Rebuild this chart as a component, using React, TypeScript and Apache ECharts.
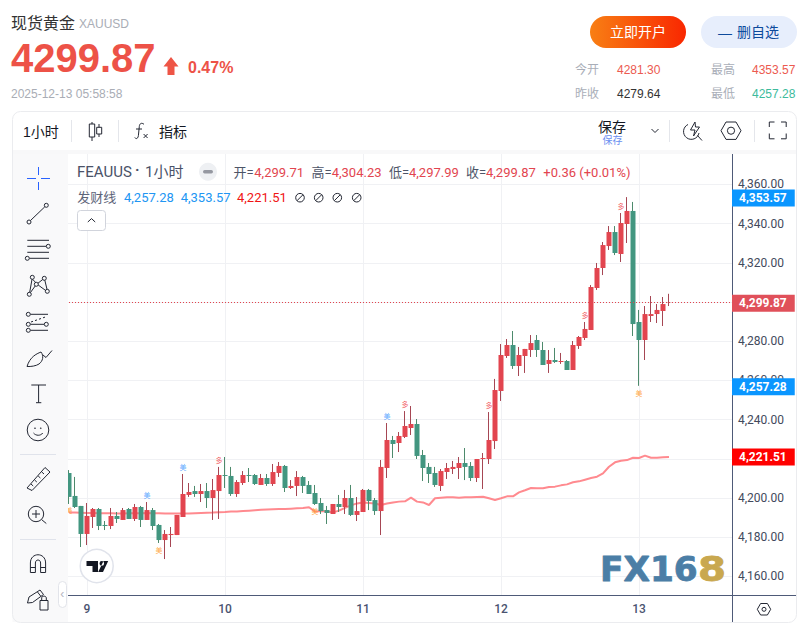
import React, { useEffect, useRef } from "react";
import * as echarts from "echarts";

const candleOpen = [
  4212.8,4201.1,4196.0,4181.7,4190.35,4194.45,4186.3,4185.75,4190.9,4188.85,
  4194.45,4189.35,4195.45,4188.85,4193.9,4186.3,4178.6,4181.15,4181.15,4190.35,
  4201.6,4203.6,4202.1,4203.6,4200.05,4203.6,4211.8,4211.3,4202.1,4207.7,
  4211.8,4211.8,4206.7,4210.25,4207.2,4212.8,4216.4,4205.15,4206.2,4210.75,
  4206.7,4202.6,4197.5,4193.9,4191.9,4197.0,4195.45,4200.05,4191.4,4192.9,
  4204.15,4199.0,4193.4,4215.35,4229.65,4228.1,4231.2,4235.75,4237.8,4222.0,
  4215.9,4212.8,4206.2,4213.3,4214.85,4215.35,4217.9,4216.4,4210.25,4219.95,
  4219.95,4229.1,4254.65,4272.5,4278.1,4267.4,4272.5,4275.55,4280.65,4275.55,
  4268.45,4270.45,4269.45,4269.95,4265.35,4277.6,4281.7,4285.75,4307.2,4317.4,
  4328.6,4335.75,4324.55,4339.85,4346.5,4289.85,4280.65,4292.9,4293.9,4295.45,4299.71,
];
const candleClose = [
  4200.6,4195.45,4181.7,4190.9,4194.45,4185.75,4185.75,4190.9,4189.35,4193.9,
  4189.35,4195.45,4188.85,4193.9,4185.75,4178.6,4181.7,4181.7,4191.4,4202.1,
  4203.1,4202.1,4203.6,4200.05,4204.1,4211.8,4211.3,4202.1,4208.2,4211.8,
  4211.3,4207.2,4210.25,4207.2,4213.3,4216.4,4205.15,4206.2,4210.75,4206.2,
  4202.1,4197.0,4193.4,4192.4,4197.0,4195.45,4200.05,4191.4,4193.4,4204.15,
  4198.5,4193.4,4215.9,4229.65,4227.6,4231.7,4236.8,4237.8,4221.5,4215.35,
  4212.3,4206.7,4213.8,4215.35,4215.9,4217.9,4215.9,4210.25,4219.95,4220.45,
  4229.65,4255.15,4273.0,4278.1,4267.4,4273.0,4276.1,4279.1,4275.55,4267.9,
  4270.45,4269.45,4269.95,4265.35,4278.1,4282.2,4286.3,4307.7,4317.4,4329.1,
  4335.75,4325.05,4340.35,4346.5,4288.8,4280.65,4293.9,4293.9,4296.0,4299.0,4299.87,
];
const candleLow = [
  4197.0,4194.95,4175.05,4176.05,4184.75,4183.7,4183.7,4184.2,4187.3,4188.85,
  4189.35,4188.3,4185.25,4188.85,4183.7,4177.1,4168.9,4175.05,4181.15,4190.35,
  4200.6,4200.6,4198.0,4194.95,4188.85,4189.35,4205.15,4201.1,4200.6,4206.7,
  4208.2,4206.7,4206.7,4206.2,4206.2,4210.8,4203.1,4204.65,4201.05,4202.6,
  4202.1,4196.5,4191.9,4186.8,4191.9,4192.9,4191.9,4190.85,4188.3,4192.9,
  4193.9,4191.4,4181.15,4210.25,4220.45,4223.5,4230.65,4232.2,4219.95,4208.7,
  4207.7,4205.7,4203.6,4209.75,4212.3,4209.75,4209.2,4208.7,4208.2,4204.65,
  4217.4,4225.05,4249.55,4271.5,4265.9,4262.3,4263.85,4272.0,4272.0,4267.9,
  4263.85,4268.95,4268.45,4265.35,4265.35,4276.1,4280.65,4285.75,4306.2,4313.8,
  4326.6,4324.0,4320.45,4330.15,4282.7,4257.28,4270.45,4289.85,4289.35,4287.8,4297.99,
];
const candleHigh = [
  4214.3,4210.8,4196.0,4197.5,4194.95,4194.95,4188.3,4194.95,4192.9,4194.95,
  4194.95,4197.0,4196.0,4198.0,4194.95,4186.8,4183.7,4185.25,4191.4,4212.3,
  4207.7,4206.2,4207.2,4207.7,4209.75,4215.9,4220.97,4215.9,4209.2,4213.8,
  4215.35,4212.3,4212.3,4212.3,4217.4,4218.4,4216.9,4209.2,4213.8,4211.3,
  4208.7,4206.7,4200.05,4196.0,4197.0,4201.6,4204.15,4206.7,4200.55,4204.65,
  4204.65,4200.05,4219.45,4238.3,4231.7,4233.7,4244.4,4246.99,4240.35,4224.55,
  4217.9,4215.9,4214.85,4217.9,4218.95,4220.95,4225.55,4218.4,4219.95,4223.0,
  4243.9,4260.8,4278.6,4281.15,4285.25,4277.1,4276.1,4283.2,4283.2,4279.65,
  4275.55,4276.6,4274.05,4270.45,4280.15,4282.7,4289.85,4308.7,4319.95,4330.65,
  4338.8,4338.8,4345.45,4353.57,4351.1,4296.0,4298.0,4303.1,4299.0,4302.6,4304.23,
];
const fortuneLine = [
  4192.7,4192.6,4192.5,4192.4,4192.4,4192.3,4192.3,4192.3,4192.2,4192.2,
  4192.3,4192.3,4192.3,4192.4,4192.3,4192.3,4192.2,4192.1,4192.1,4192.2,
  4192.2,4192.3,4192.4,4192.5,4192.6,4192.8,4192.9,4193.1,4193.2,4193.4,
  4193.6,4193.8,4194.0,4194.2,4194.3,4194.4,4194.4,4194.6,4194.8,4195.0,
  4195.3,4193.1,4193.4,4193.25,4192.7,4193.6,4195.0,4196.3,4197.3,4197.7,
  4197.5,4197.2,4196.5,4197.2,4197.8,4198.2,4198.35,4200.2,4198.2,4197.8,
  4196.5,4199.9,4200.2,4200.4,4200.4,4200.2,4200.4,4200.4,4200.55,4200.7,
  4199.9,4199.0,4199.9,4200.9,4200.9,4202.9,4204.0,4205.15,4205.0,4205.0,
  4205.7,4205.85,4206.5,4207.0,4208.05,4208.55,4209.4,4210.25,4210.9,4212.6,
  4216.0,4218.25,4219.1,4219.4,4220.6,4220.45,4221.65,4220.6,4220.6,4220.8,4221.0,
];
const blueMarks = [[13, 4201.2], [19, 4215.5], [53, 4241.5]];
const redMarks = [[25, 4219.1], [56, 4247.65], [70, 4247.1], [86, 4293.1], [92, 4348.7]];
const orangeMarks = [[0, 4193.6], [15, 4173.5], [41, 4193.06], [95, 4253.3]];
const priceTicks = [4160, 4180, 4200, 4220, 4240, 4260, 4280, 4300, 4320, 4340, 4360];
const priceLabels = [4160, 4180, 4200, 4240, 4260, 4280, 4320, 4340, 4360];
const dayIndexes = [3, 26, 49, 72, 95];
const dayNames = ["9", "10", "11", "12", "13"];
const LAST_PRICE = 4299.87;
const SIGNAL_LOW = 4257.28;
const SIGNAL_HIGH = 4353.57;
const SIGNAL_MID = 4221.51;
const categories: string[] = Array.from({ length: 111 }, (_, i) => {
  const k = dayIndexes.indexOf(i);
  return k >= 0 ? dayNames[k] : "";
});

const CJK = '"Liberation Sans","Noto Sans CJK SC",sans-serif';
const ROB = 'Roboto,"Noto Sans CJK SC",sans-serif';
const UP = "#e2454f";
const DOWN = "#429680";
const UPW = "#a64653";
const DOWNW = "#4d8a6c";

const circ = (x: number, y: number, r: number) =>
  `M${x - r} ${y}a${r} ${r} 0 1 0 ${2 * r} 0a${r} ${r} 0 1 0 ${-2 * r} 0`;
const seg = (a: number, b: number, c: number, d: number) => `M${a} ${b}L${c} ${d}`;

const iconsD = [
  // trend
  circ(29, 222, 2), circ(46.3, 205.3, 2), seg(30.5, 220.5, 44.8, 206.8),
  // parallel lines
  seg(27.3, 240.3, 49, 240.3), seg(27.3, 246.3, 46, 246.3), circ(48.3, 246.3, 2), seg(27.3, 252.3, 49, 252.3),
  seg(29.5, 258.3, 49, 258.3), circ(27.3, 258.3, 2),
  // network
  circ(32.3, 277.3, 2), circ(44.3, 278.3, 2), circ(36.3, 284.3, 2), circ(29.3, 294.3, 2), circ(47.3, 291.3, 2),
  seg(32.6, 279.3, 35.6, 282.4), seg(42.7, 279.5, 38, 283.2), seg(44.8, 280.2, 47, 289.3), seg(38.2, 285, 45.5, 290.4),
  seg(35.2, 286, 30.4, 292.6), seg(32, 279.3, 29.7, 292.3),
  // fib
  circ(28.3, 314.3, 2), seg(30.5, 314.3, 48, 314.3), circ(28.3, 324.3, 2), seg(30.5, 324.3, 44, 324.3), circ(46.3, 324.3, 2),
  circ(28.3, 330.3, 2), seg(30.5, 330.3, 48, 330.3),
  "M31 322L33 321.3M35 320.6L37 319.9M39 319.2L41 318.5M43 317.8L45 317.1",
  // brush
  "M27 366.5C30 357 36 354 41 352C44 356 43 361 39 364C36 366 31 366.7 27 366.5Z", "M43 355L46 357.5L52 350.5",
  // T
  "M31.3 385H46M38.6 385V402.7M36 402.7H41.3",
  // smile
  circ(38, 430, 10.8), "M33.5 433C36 436 40.5 436 42.8 433", circ(35, 428.2, 0.4), circ(40.8, 428.2, 0.4),
  // ruler
  "M27 488L45 467.5L50 472L32 490.5Z", "M31 484L33.2 486M34.6 480L36.8 482M38.2 476L40.4 478M41.8 472L44 474",
  // zoom
  circ(36, 514, 7.7), "M36 510V518M32 514H40M41.6 519.6L46.3 523.5",
  // magnet
  "M30.4 572.5V563C30.4 552 45.6 552 45.6 563V572.5H40.6V563C40.6 559 35.4 559 35.4 563V572.5Z", "M30.4 567.5H35.4M40.6 567.5H45.6",
  // pencil lock
  "M27.5 603L29 597L40 590L43.5 594.5L32.5 602.5Z", "M37.5 592L41 596.5", "M40 600.5H48V610H40Z", "M41.7 600.5V598C41.7 595.5 46.3 595.5 46.3 598V600.5",
  // candle icon
  "M89.3 124H94.7V137H89.3ZM92 122V124M92 137V141M96.7 127.3H101.7V134H96.7ZM99 124V127.3M99 134V137",
  // fx
  "M144 124.3C141.5 122.3 139.5 123.5 139.3 126.5L138.4 135.5C138 139 135.8 139.3 134.8 137.5M136 129H142M143.6 134L147.6 138M147.6 134L143.6 138",
  // chevrons
  "M651.5 129L655 132.5L658.5 129", "M87.8 222L91.5 218.6L95.2 222",
  // lightning search
  "M688 124.5A7.8 7.8 0 1 0 699 133M697.5 135.5L702 140.5", "M695 122L690.5 130H695L693.5 136L699.5 127H695.5Z",
  // settings hexagon
  "M721 130.7L726 122H736L741 130.7L736 139.4H726Z", circ(731, 130.7, 3.6),
  // fullscreen
  "M769.3 127V122H774.5M781 122H786.2V127M786.2 133.5V138.8H781M774.5 138.8H769.3V133.5",
  // axis hexagon
  "M757.3 609.3L760.6 603.5H767.4L770.7 609.3L767.4 615H760.6Z", circ(764, 609.3, 2),
  // no-entry circles
  circ(300, 197.7, 4.3), seg(297, 200.7, 303, 194.7), circ(318.7, 197.7, 4.3), seg(315.7, 200.7, 321.7, 194.7),
  circ(337.3, 197.7, 4.3), seg(334.3, 200.7, 340.3, 194.7), circ(356.7, 197.7, 4.3), seg(353.7, 200.7, 359.7, 194.7),
].join("");
echarts.graphic.registerShape("appIcons", (echarts.graphic as any).extendPath(iconsD, {}));
echarts.graphic.registerShape(
  "tvLogo",
  (echarts.graphic as any).extendPath(
    "M86.5 561H98V572H92.5V566H86.5Z" + circ(101.8, 563.4, 2.3) + "M103.5 561H108.2L103 572H98.2Z",
    {},
  ),
);

const T = (text: string, x: number, y: number, size: number, fill: string, o: any = {}) => ({
  type: "text",
  z: 100,
  silent: true,
  style: {
    text,
    x,
    y,
    fill,
    font: `${o.weight || "normal"} ${size}px ${o.family || CJK}`,
    textAlign: o.align || "left",
    textVerticalAlign: "middle",
    opacity: o.opacity ?? 1,
  },
});
const WM = (text: string, x: number, y: number, sx: number, fill: string) => ({
  type: "text",
  z: 100,
  silent: true,
  x,
  y,
  scaleX: sx,
  style: {
    text,
    x: 0,
    y: 0,
    fill,
    stroke: fill,
    lineWidth: 0.8,
    font: 'bold 33px "DejaVu Sans"',
    textAlign: "left",
    textVerticalAlign: "middle",
  },
});
const L = (x1: number, y1: number, x2: number, y2: number, stroke: string, w = 1, z = 100) => ({
  type: "line",
  z,
  silent: true,
  shape: { x1, y1, x2, y2 },
  style: { stroke, lineWidth: w },
});

function buildChrome() {
  const sep = "#e4e6eb";
  return [
    // left toolbar + top band cover the plot overflow
    { type: "rect", z: 90, silent: true, shape: { x: 12.5, y: 154, width: 55.5, height: 468 }, style: { fill: "#f9f9fa" } },
    { type: "rect", z: 90, silent: true, shape: { x: 12.5, y: 150, width: 784, height: 4 }, style: { fill: "#f8f8f9" } },
    { type: "rect", z: 95, silent: true, shape: { x: 12.5, y: 111.5, width: 784, height: 511, r: 8 }, style: { fill: "none", stroke: "#ebecef", lineWidth: 1 } },

    // header
    T("现货黄金", 11, 23, 16, "#333333"),
    T("XAUUSD", 79, 23.5, 12, "#a9adb5"),
    T("4299.87", 11, 58, 40, "#ed5247", { weight: "bold" }),
    { type: "polygon", z: 100, silent: true, shape: { points: [[171, 57], [178.5, 66.5], [174.5, 66.5], [174.5, 75], [167.5, 75], [167.5, 66.5], [163.5, 66.5]] }, style: { fill: "#ee5546" } },
    T("0.47%", 188, 67.5, 16, "#ed5247", { weight: "bold" }),
    T("2025-12-13 05:58:58", 11, 93.5, 12, "#a9adb5"),

    // buttons
    {
      type: "rect", z: 99, silent: true,
      shape: { x: 590, y: 16, width: 96, height: 32, r: 16 },
      style: { fill: new echarts.graphic.LinearGradient(0, 0, 1, 0, [{ offset: 0, color: "#f87f14" }, { offset: 1, color: "#f92700" }]) },
    },
    T("立即开户", 638, 32, 14, "#ffffff", { align: "center" }),
    { type: "rect", z: 99, silent: true, shape: { x: 701, y: 16, width: 96, height: 32, r: 16 }, style: { fill: "#e7eefc" } },
    T("—", 718, 32.5, 14, "#0d4a9c"),
    T("删自选", 737, 32, 14, "#0d4a9c"),

    // stats
    T("今开", 575, 69.5, 12, "#a9aeb8"),
    T("4281.30", 617, 69.5, 12, "#ec5a50"),
    T("最高", 711, 69.5, 12, "#a9aeb8"),
    T("4353.57", 752, 69.5, 12, "#ec5a50"),
    T("昨收", 575, 93.5, 12, "#a9aeb8"),
    T("4279.64", 617, 93.5, 12, "#333333"),
    T("最低", 711, 93.5, 12, "#a9aeb8"),
    T("4257.28", 752, 93.5, 12, "#3dbb9c"),

    // toolbar row
    T("1小时", 23, 132, 14, "#131722"),
    L(71.5, 120, 71.5, 142, sep),
    L(118.5, 120, 118.5, 142, sep),
    T("指标", 159, 132, 14, "#131722"),
    T("保存", 598, 127, 14, "#131722"),
    T("保存", 602.5, 140.5, 10, "#6a8ff0"),
    L(669.5, 120, 669.5, 142, sep),
    L(754.5, 120, 754.5, 142, sep),

    // toolbar separators
    L(20, 454.5, 56, 454.5, "#e0e3eb"),
    L(20, 539.5, 56, 539.5, "#e0e3eb"),

    // crosshair
    L(27, 178.5, 36, 178.5, "#2962ff"), L(41, 178.5, 50, 178.5, "#2962ff"),
    L(38.5, 167, 38.5, 175, "#2962ff"), L(38.5, 182, 38.5, 190, "#2962ff"),

    // legend
    T("FEAUUS", 77, 172, 15, "#4a5268", { family: ROB }),
    T("·", 135, 170, 15, "#4a5268", { family: ROB, weight: "bold" }),
    T("1小时", 145, 172, 15, "#4a5268", { family: ROB }),
    { type: "circle", z: 100, silent: true, shape: { cx: 208, cy: 171.7, r: 9 }, style: { fill: "#eef0f3" } },
    { type: "rect", z: 100, silent: true, shape: { x: 203, y: 170, width: 10, height: 3.5, r: 1.7 }, style: { fill: "#9598a1" } },
    T("开=", 233.5, 172, 13, "#4d5568", { family: ROB }),
    T("4,299.71", 254.3, 172, 13, UP, { family: ROB }),
    T("高=", 311.5, 172, 13, "#4d5568", { family: ROB }),
    T("4,304.23", 331.7, 172, 13, UP, { family: ROB }),
    T("低=", 389, 172, 13, "#4d5568", { family: ROB }),
    T("4,297.99", 409, 172, 13, UP, { family: ROB }),
    T("收=", 466, 172, 13, "#4d5568", { family: ROB }),
    T("4,299.87", 486, 172, 13, UP, { family: ROB }),
    T("+0.36 (+0.01%)", 543.3, 172, 13, UP, { family: ROB }),
    T("发财线", 77.3, 197.5, 13, "#5d6478", { family: ROB }),
    T("4,257.28", 124, 197.5, 13, "#2196f3", { family: ROB }),
    T("4,353.57", 180.7, 197.5, 13, "#2196f3", { family: ROB }),
    T("4,221.51", 237, 197.5, 13, "#f01414", { family: ROB }),
    { type: "rect", z: 99, silent: true, shape: { x: 77.5, y: 210.5, width: 28, height: 20, r: 3 }, style: { fill: "#ffffff", stroke: "#d1d4dc" } },

    // collapse handle
    { type: "rect", z: 99, silent: true, shape: { x: 58.5, y: 581.5, width: 8, height: 26, r: 4 }, style: { fill: "#ffffff", stroke: "#e2e4ea" } },
    T("‹", 60.2, 593.5, 12, "#b2b5be"),

    // TradingView badge
    { type: "circle", z: 99, silent: true, shape: { cx: 96.7, cy: 566, r: 16.5 }, style: { fill: "#ffffff", stroke: "#e0e3eb", lineWidth: 1.5 } },
    { type: "tvLogo", z: 100, silent: true, x: 0, y: 0, style: { fill: "#131722" } },

    // axis extensions
    L(732.5, 595, 732.5, 622, "#4e5a78"),
    L(68, 595.5, 796, 595.5, "#4e5a78"),

    // icons
    { type: "appIcons", z: 100, silent: true, x: 0, y: 0, style: { fill: "none", stroke: "#232733", lineWidth: 1 } },

    // watermark
    WM("FX16", 600, 569.5, 1.04, "#4b7ea6"),
    WM("8", 698, 569.5, 1.22, "#c9a84f"),
  ];
}

function tagLine(value: number, label: string, bg: string, lineStyle: any) {
  return {
    yAxis: value,
    lineStyle,
    label: {
      show: true,
      position: "end",
      distance: 0,
      offset: [0, 1],
      formatter: label,
      color: "#ffffff",
      opacity: 1,
      fontFamily: "Roboto",
      fontWeight: "bold",
      fontSize: 12,
      lineHeight: 13,
      backgroundColor: bg,
      padding: [2, 8, 2, 7],
    },
  };
}

const markerSeries = (name: string, data: number[][], color: string, glyph: string) => ({
  name,
  type: "scatter",
  data,
  symbolSize: 1,
  itemStyle: { opacity: 0 },
  silent: true,
  z: 4,
  label: { show: true, position: "inside", formatter: glyph, color, fontSize: 7, fontFamily: CJK, opacity: 0.9 },
});

export default function App() {
  const ref = useRef<HTMLDivElement>(null);
  useEffect(() => {
    document.body.style.margin = "0";
    document.body.style.overflow = "hidden";
    const chart = echarts.init(ref.current!, undefined, { renderer: "svg", width: 808, height: 624 });
    const wickData = candleOpen.map((o, i) => [o, candleClose[i], candleLow[i], candleHigh[i]]);
    const bodyData = candleOpen.map((o, i) => [o, candleClose[i], Math.min(o, candleClose[i]), Math.max(o, candleClose[i])]);
    chart.setOption({
      animation: false,
      backgroundColor: "#ffffff",
      grid: { left: 66, right: 76, top: 154, bottom: 29, containLabel: false },
      xAxis: {
        type: "category",
        data: categories,
        boundaryGap: true,
        axisLine: { show: true, lineStyle: { color: "#4e5a78" } },
        axisTick: { show: false },
        axisLabel: {
          interval: (i: number) => dayIndexes.includes(i),
          margin: 7,
          color: "#4a5370",
          fontSize: 12,
          fontFamily: "Roboto",
          fontWeight: 500,
          lineHeight: 14,
        },
        splitLine: {
          show: true,
          alignWithLabel: true,
          interval: (i: number) => dayIndexes.includes(i),
          lineStyle: { color: "#f0f1f4", width: 1 },
        },
      },
      yAxis: {
        type: "value",
        position: "right",
        min: 4150.56,
        max: 4375.56,
        scale: true,
        axisLine: { show: true, lineStyle: { color: "#4e5a78" } },
        axisTick: { show: false, customValues: priceTicks },
        axisLabel: {
          customValues: priceLabels,
          margin: 6,
          color: "#434a5c",
          fontSize: 12,
          fontFamily: "Roboto",
          padding: [2, 0, 0, 0],
          formatter: (v: number) => v.toLocaleString("en-US", { minimumFractionDigits: 2, maximumFractionDigits: 2 }),
        },
        splitLine: { show: true, lineStyle: { color: "#f0f1f4", width: 1 } },
      },
      series: [
        {
          name: "发财线",
          type: "line",
          data: fortuneLine,
          showSymbol: false,
          silent: true,
          z: 2,
          lineStyle: { color: "#ff8a8f", width: 2 },
        },
        {
          name: "wicks",
          type: "candlestick",
          data: wickData,
          barWidth: 1,
          silent: true,
          z: 3,
          itemStyle: { color: UPW, color0: DOWNW, borderColor: UPW, borderColor0: DOWNW, borderColorDoji: UPW, borderWidth: 1 },
        },
        {
          name: "FEAUUS",
          type: "candlestick",
          data: bodyData,
          barWidth: 5,
          silent: true,
          z: 3,
          itemStyle: { color: UP, color0: DOWN, borderWidth: 0, borderColor: UP, borderColor0: DOWN, borderColorDoji: UP },
        },
        {
          name: "tags",
          type: "line",
          data: [],
          silent: true,
          z: 5,
          markLine: {
            silent: true,
            symbol: "none",
            animation: false,
            data: [
              tagLine(LAST_PRICE, "4,299.87", "#e0505a", { color: UP, type: [1, 2], width: 1, opacity: 1 }),
              tagLine(SIGNAL_HIGH, "4,353.57", "#0a96ff", { color: "rgba(0,0,0,0)", width: 0 }),
              tagLine(SIGNAL_LOW, "4,257.28", "#0a96ff", { color: "rgba(0,0,0,0)", width: 0 }),
              tagLine(SIGNAL_MID, "4,221.51", "#ff0000", { color: "rgba(0,0,0,0)", width: 0 }),
            ],
          },
        },
        markerSeries("blue", blueMarks, "#4a9cff", "美"),
        markerSeries("red", redMarks, "#f04a50", "多"),
        markerSeries("orange", orangeMarks, "#ff9a2e", "美"),
      ],
      graphic: { elements: buildChrome() },
    });
    return () => chart.dispose();
  }, []);
  return <div ref={ref} style={{ position: "fixed", left: 0, top: 0, width: 808, height: 624, overflow: "hidden" }} />;
}
